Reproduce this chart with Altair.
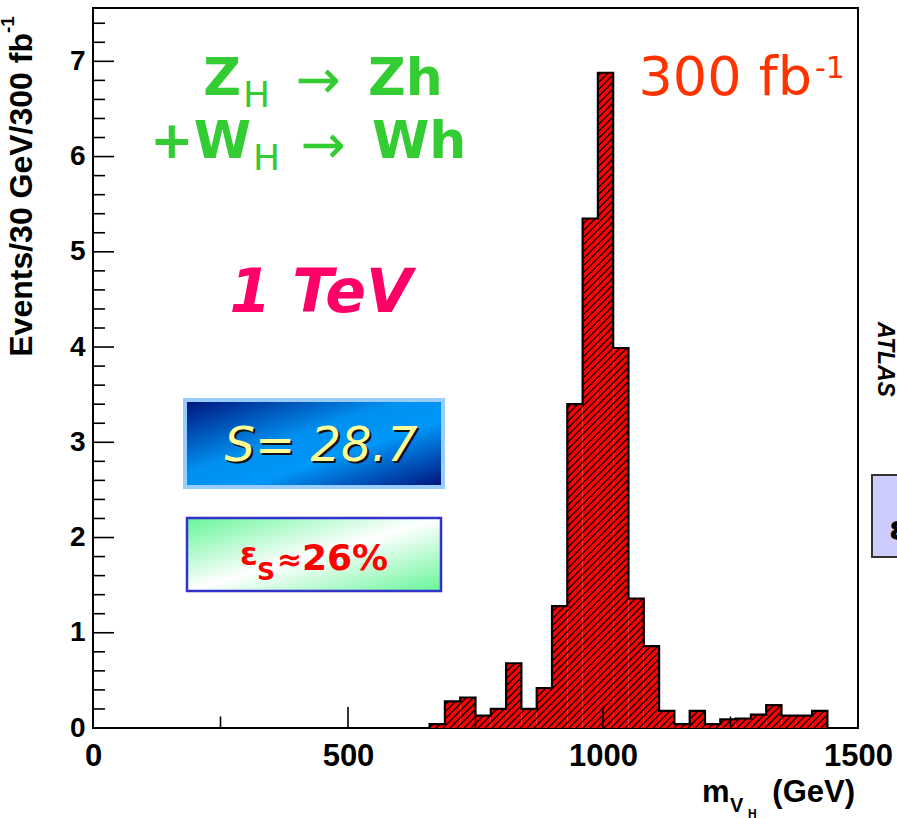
import altair as alt
import numpy as np
import pandas as pd

# ---------------- data ----------------
BIN_LO = [660, 690, 720, 750, 780, 810, 840, 870, 900, 930, 960, 990, 1020,
          1050, 1080, 1110, 1140, 1170, 1200, 1230, 1260, 1290, 1320, 1350,
          1380, 1410]
BIN_W = 30
COUNTS = [0.04, 0.28, 0.32, 0.13, 0.20, 0.68, 0.20, 0.42, 1.28, 3.40, 5.35,
          6.88, 3.99, 1.36, 0.86, 0.18, 0.04, 0.18, 0.04, 0.09, 0.10, 0.14,
          0.24, 0.13, 0.13, 0.18]
X_MAJOR = [0, 500, 1000, 1500]
X_MINOR = [250, 750, 1250]
Y_MAJOR = [0, 1, 2, 3, 4, 5, 6, 7]
Y_MINOR = [0.2, 0.4, 0.6, 0.8, 1.2, 1.4, 1.6, 1.8, 2.2, 2.4, 2.6, 2.8,
           3.2, 3.4, 3.6, 3.8, 4.2, 4.4, 4.6, 4.8, 5.2, 5.4, 5.6, 5.8,
           6.2, 6.4, 6.6, 6.8, 7.2, 7.4]

# ---------------- layout ----------------
W, H = 765, 720
XMAX, YMAX = 1500, 7.56
AXFONT = "Liberation Sans"
FUN = "DejaVu Sans"

xs = alt.Scale(domain=[0, XMAX], nice=False, zero=False)
ys = alt.Scale(domain=[0, YMAX], nice=False, zero=False)

XAX = alt.Axis(values=X_MAJOR, title=None, grid=False, ticks=False,
               tickSize=0, domain=False, labelFont=AXFONT,
               labelFontWeight="bold", labelFontSize=31, labelColor="black",
               labelPadding=13, labelFlush=False, labelOverlap=False,
               format="d")
YAX = alt.Axis(values=Y_MAJOR, title=None, grid=False, ticks=False,
               tickSize=0, domain=False, labelFont=AXFONT,
               labelFontWeight="bold", labelFontSize=28, labelColor="black",
               labelPadding=8, labelFlush=False, labelOverlap=False,
               format="d")

bars_df = pd.DataFrame({"lo": BIN_LO, "hi": [b + BIN_W for b in BIN_LO],
                        "v": COUNTS, "z": [0.0] * len(BIN_LO)})

# step outline (ROOT histogram contour)
out_x = [BIN_LO[0]] + BIN_LO + [BIN_LO[-1] + BIN_W]
out_y = [0.0] + COUNTS + [0.0]
outline_df = pd.DataFrame({"lo": out_x, "v": out_y, "i": range(len(out_x))})

# hatch lines (style "/"), derived from the bins through the pixel scale
sx, sy = W / XMAX, H / YMAX
SP = 7.0
segs = []
for lo, v in zip(BIN_LO, COUNTS):
    u0, u1 = lo * sx, (lo + BIN_W) * sx
    hh = v * sy
    k0 = int(np.floor((u0 - hh) / SP))
    k1 = int(np.ceil(u1 / SP))
    for k in range(k0, k1 + 1):
        c = k * SP
        us, ue = max(u0, c), min(u1, c + hh)
        if ue - us > 0.4:
            segs.append({"lo": us / sx, "v": (us - c) / sy,
                         "x2": ue / sx, "y2": (ue - c) / sy})
hatch_df = pd.DataFrame(segs)

X = alt.X("lo:Q", scale=xs, axis=XAX)
Y = alt.Y("v:Q", scale=ys, axis=YAX)

bars = alt.Chart(bars_df).mark_rect(fill="#ff0000", strokeWidth=0).encode(
    x=X, x2="hi:Q", y=Y, y2="z:Q")

hatch = alt.Chart(hatch_df).mark_rule(color="black", strokeWidth=1.3).encode(
    x=X, x2="x2:Q", y=Y, y2="y2:Q")

outline = alt.Chart(outline_df).mark_line(
    interpolate="step-after", color="black", strokeWidth=2.2).encode(
    x=X, y=Y, order="i:Q")


def xticks(vals, length):
    return alt.Chart(pd.DataFrame({"lo": vals})).mark_rule(
        color="black", strokeWidth=1.6).encode(
        x=X, y=alt.value(H), y2=alt.value(H - length))


def yticks(vals, length):
    return alt.Chart(pd.DataFrame({"v": vals})).mark_rule(
        color="black", strokeWidth=1.6).encode(
        y=Y, x=alt.value(0), x2=alt.value(length))


def txt(s, x, y, size, color="black", font=FUN, weight="normal",
        style="normal", align="left", angle=0, baseline="alphabetic"):
    return alt.Chart(pd.DataFrame({"t": [s]})).mark_text(
        font=font, fontSize=size, fontWeight=weight, fontStyle=style,
        color=color, align=align, baseline=baseline, angle=angle).encode(
        x=alt.value(x), y=alt.value(y), text="t:N")


def box(x0, x1, y0, y1, fill, stroke, sw):
    return alt.Chart(pd.DataFrame({"a": [0]})).mark_rect(
        fill=fill, stroke=stroke, strokeWidth=sw).encode(
        x=alt.value(x0), x2=alt.value(x1), y=alt.value(y0), y2=alt.value(y1))


blue_grad = alt.Gradient(
    gradient="linear", x1=0, y1=0, x2=1, y2=1,
    stops=[alt.GradientStop(color="#00127a", offset=0),
           alt.GradientStop(color="#0090f0", offset=0.42),
           alt.GradientStop(color="#0096f8", offset=0.62),
           alt.GradientStop(color="#00107a", offset=1)])
green_grad = alt.Gradient(
    gradient="linear", x1=0, y1=0, x2=1, y2=1,
    stops=[alt.GradientStop(color="#66f599", offset=0),
           alt.GradientStop(color="#ffffff", offset=0.5),
           alt.GradientStop(color="#66f599", offset=1)])

GREEN = "#33cc33"
annot = [
    # Z_H -> Zh ; +W_H -> Wh
    txt("Z", 148, 87, 52, GREEN, weight="bold", align="right"),
    txt("H", 150, 99, 36, GREEN),
    txt("\u2192", 225, 90, 54, GREEN, align="center"),
    txt("Zh", 275, 87, 52, GREEN, weight="bold"),
    txt("+W", 158, 150, 52, GREEN, weight="bold", align="right"),
    txt("H", 160, 162, 36, GREEN),
    txt("\u2192", 230, 155, 54, GREEN, align="center"),
    txt("Wh", 279, 150, 52, GREEN, weight="bold"),
    # 1 TeV
    txt("1 TeV", 228, 304, 60, "#ff0066", weight="bold", style="italic",
        align="center"),
    # 300 fb-1
    txt("300 fb", 719, 87, 54, "#ff3300", align="right"),
    txt("-1", 722, 70, 30, "#ff3300"),
    # S box
    box(92, 350, 392, 479, blue_grad, "#99ccff", 4),
    txt("S= 28.7", 230, 455, 48, "#111111", style="italic", align="center"),
    txt("S= 28.7", 228, 453, 48, "#ffff99", style="italic", align="center"),
    # efficiency box
    box(94, 348, 510, 583, green_grad, "#3333cc", 2.5),
    txt("\u03b5", 147, 557, 32, "#ff0000", weight="bold"),
    txt("S", 164, 572, 25, "#ff0000", weight="bold"),
    txt("\u2248", 184, 562, 30, "#ff0000", weight="bold"),
    txt("26%", 209, 562, 36, "#ff0000", weight="bold"),
    # neighbouring panel remnants
    txt("ATLAS", 785, 314, 23, "black", font=AXFONT, weight="bold",
        style="italic", angle=90),
    box(779, 812, 467, 549, "#ccccff", "#333333", 2),
    txt("\u03b5", 796, 532, 34, "black", weight="bold"),
    # axis titles
    txt("Events/30 GeV/300 fb", -61, 25, 32, "black", font=AXFONT,
        weight="bold", align="right", angle=270),
    txt("-1", -79, 25, 19, "black", font=AXFONT, weight="bold",
        align="left", angle=270),
    txt("m", 609, 794, 31, "black", font=AXFONT, weight="bold"),
    txt("V", 637, 804, 20, "black", font=AXFONT, weight="bold"),
    txt("H", 655, 810, 12, "black", font=AXFONT, weight="bold"),
    txt("(GeV)", 762, 794, 31, "black", font=AXFONT, weight="bold",
        align="right"),
]

chart = alt.layer(
    bars, hatch, outline,
    xticks(X_MAJOR, 21), xticks(X_MINOR, 11.5),
    yticks(Y_MAJOR, 21), yticks(Y_MINOR, 12),
    *annot,
).properties(
    width=W, height=H,
    padding={"left": 93, "top": 8, "right": 39, "bottom": 90},
    autosize=alt.AutoSizeParams(type="none"),
    background="white",
).configure_view(stroke="black", strokeWidth=2)

chart.save("out.html", embed_options={"renderer": "svg", "actions": False})
